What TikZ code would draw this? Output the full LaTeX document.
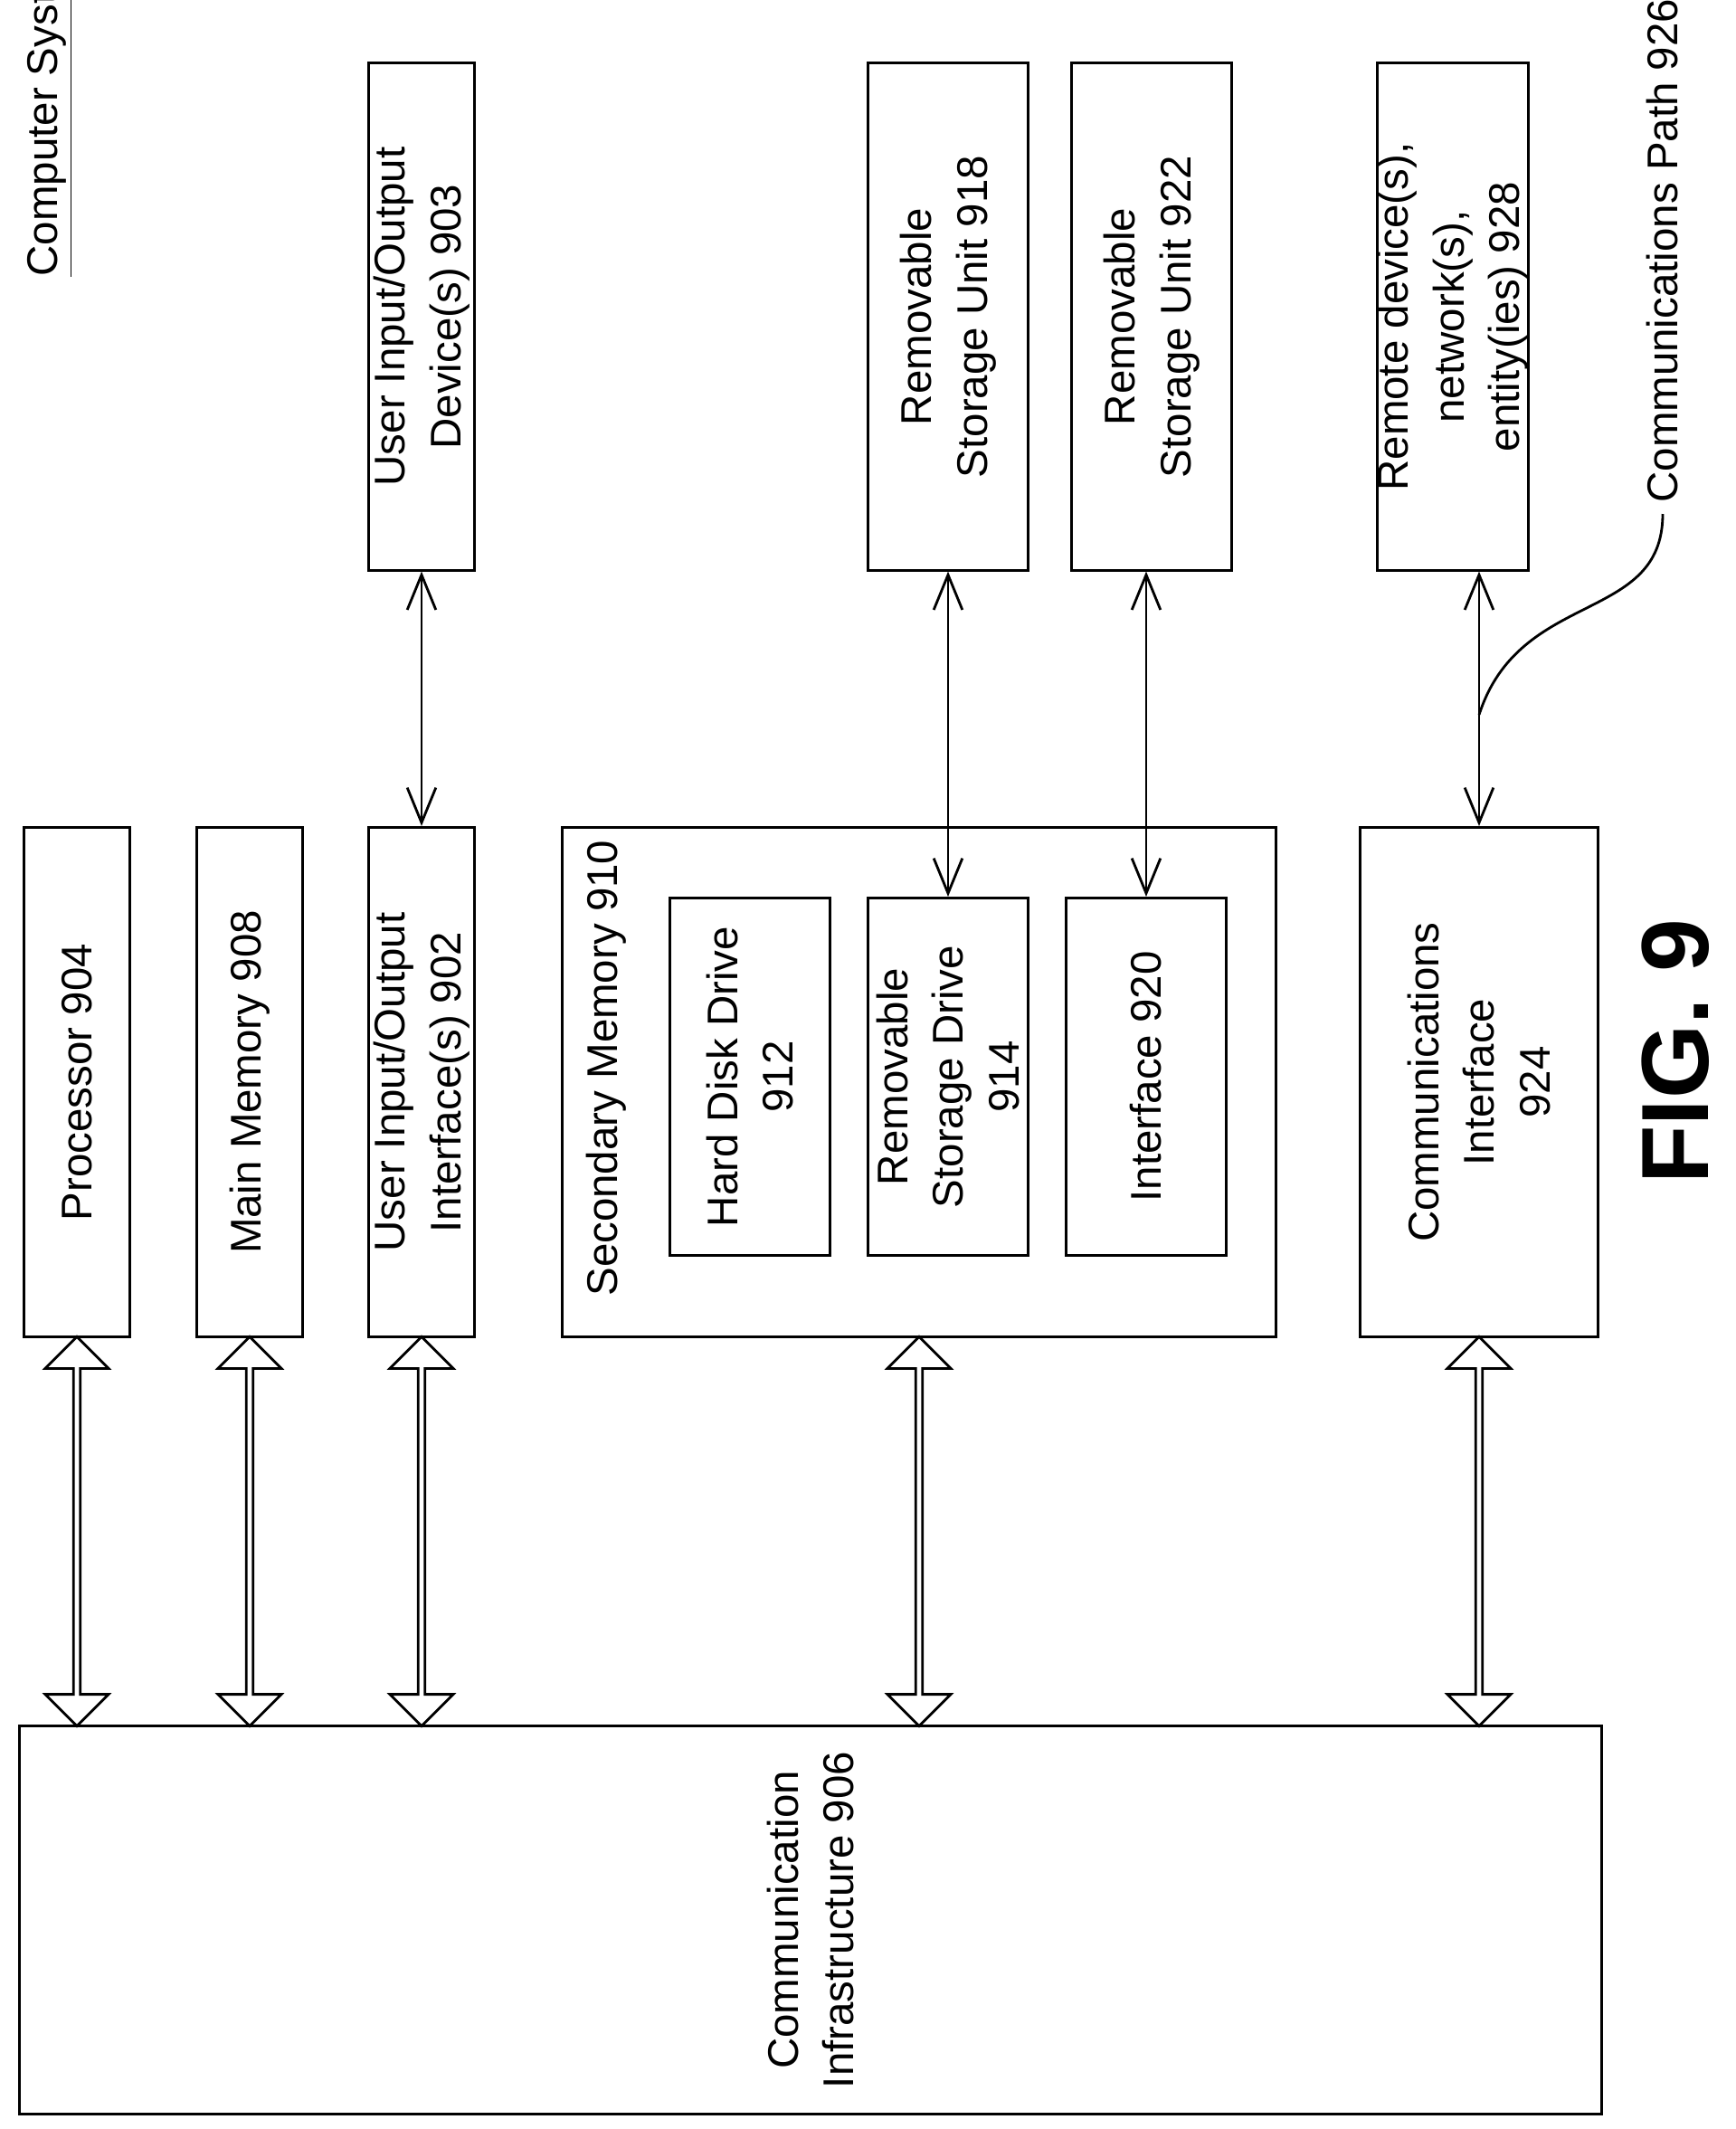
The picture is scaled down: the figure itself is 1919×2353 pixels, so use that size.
\documentclass[tikz,border=0pt]{standalone}
\usepackage{fontspec}
\setmainfont{Liberation Sans}
\usetikzlibrary{shapes.arrows,arrows.meta}

\begin{document}
\begin{tikzpicture}[x=0.01cm, y=-0.01cm,
    lbl/.style = {font=\fontsize{13.5}{17.5}\selectfont},
    box/.style = {draw, thick, rotate=90, align=center, inner sep=0pt, lbl},
    bus/.style = {double arrow, draw, thick, shape border rotate=90, minimum width=0.7cm, minimum height=4.3cm,
                  double arrow head extend=0.12cm, double arrow head indent=0cm, inner sep=0pt},
    link/.style = {thick, {Straight Barb[length=11pt,width=9pt]}-{Straight Barb[length=11pt,width=9pt]}}]
        \useasboundingbox (0,0) rectangle (1919,2353);

        % boxes (rotated: minimum width = page height)
        \node[box, minimum width=5.63cm, minimum height=1.17cm] (proc) at (85,1196) {Processor 904};
        \node[box, minimum width=5.63cm, minimum height=1.17cm] (mem) at (276,1196) {Main Memory 908};
        \node[box, minimum width=5.63cm, minimum height=1.17cm] (uioif) at (466,1196) {User Input/Output\\Interface(s) 902};
        \node[box, minimum width=5.6cm, minimum height=1.17cm] (uiodev) at (466,350) {User Input/Output\\Device(s) 903};
        \node[box, minimum width=5.63cm, minimum height=7.88cm] (sec) at (1016,1196) {};
        \node[box, minimum width=3.95cm, minimum height=1.77cm] (hdd) at (829,1190) {Hard Disk Drive\\912};
        \node[box, minimum width=3.95cm, minimum height=1.77cm] (rsd) at (1048,1190) {Removable\\Storage Drive\\914};
        \node[box, minimum width=3.95cm, minimum height=1.77cm] (intf) at (1267,1190) {Interface 920};
        \node[box, minimum width=5.6cm, minimum height=1.77cm] (rsu1) at (1048,350) {Removable\\Storage Unit 918};
        \node[box, minimum width=5.6cm, minimum height=1.77cm] (rsu2) at (1273,350) {Removable\\Storage Unit 922};
        \node[box, minimum width=5.6cm, minimum height=1.17cm] (remote) at (1606,350) {Remote device(s),\\network(s),\\entity(ies) 928};
        \node[box, minimum width=5.63cm, minimum height=2.63cm] (comm) at (1635,1196) {Communications\\Interface\\924};
        \node[box, minimum width=4.29cm, minimum height=17.48cm] (infra) at (896,2122) {Communication\\Infrastructure 906};

        % labels
        \node[rotate=90, anchor=north west, lbl] (seclbl) at (636,1445) {Secondary Memory 910};
        \node[rotate=90, anchor=north west, lbl] (title) at (18,318) {\underline{Computer System 900}};
        \node[rotate=90, anchor=west, lbl] (pathlbl) at (1838,568) {Communications Path 926};
        \node[rotate=90, font=\fontsize{30}{34}\bfseries] (fig) at (1852,1162) {FIG. 9};

        % buses
        \foreach \n in {proc,mem,uioif,sec,comm}
            \path (\n.west) -- (infra.east -| \n.west) node[midway, bus] {};

        % links
        \draw[link] (uiodev.west) -- (uioif.east);
        \draw[link] (rsu1.west) -- (rsd.east);
        \draw[link] (rsu2.west -| intf.east) -- (intf.east);
        \draw[link] (remote.west -| comm.east) -- (comm.east);
        \coordinate (tap) at (1635,790);
        \draw[thick] (pathlbl.west) .. controls (1838,690) and (1680,650) .. (tap);
\end{tikzpicture}
\end{document}
